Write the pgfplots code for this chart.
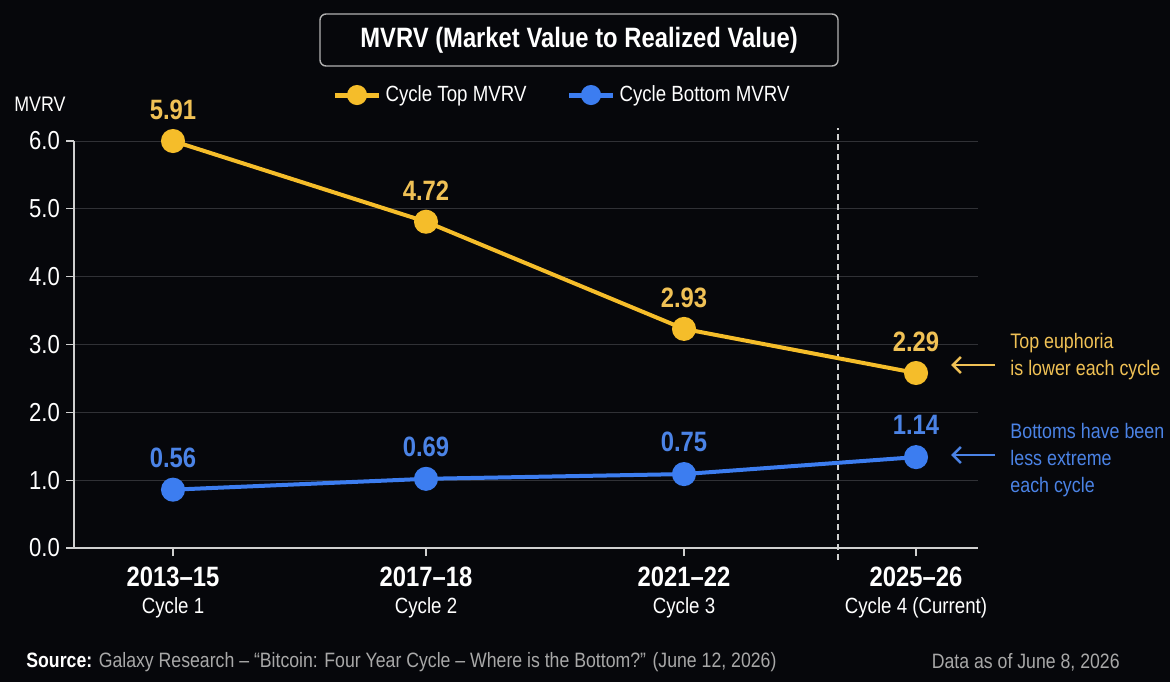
\documentclass[border=0pt]{standalone}
\usepackage{pgfplots}
\pgfplotsset{compat=1.18}
\usetikzlibrary{arrows.meta}
\usepackage{fontspec}
\setmainfont{Liberation Sans}[FakeStretch=0.85]
\definecolor{bg}{HTML}{06070B}
\definecolor{topc}{HTML}{F5BD2A}
\definecolor{botc}{HTML}{3C7DF0}
\definecolor{toplab}{HTML}{F0C155}
\definecolor{botlab}{HTML}{4B83E6}
\definecolor{gridc}{HTML}{303136}
\definecolor{axc}{HTML}{D0D0D0}
\definecolor{srcgray}{HTML}{A8A8A8}
\begin{document}
\begin{tikzpicture}[x=0.5pt,y=0.5pt]
\fill[bg] (0,0) rectangle (1170,682);
\useasboundingbox (0,0) rectangle (1170,682);
% title box
\draw[axc!85!black, line width=0.7pt, rounded corners=3pt] (320,668) rectangle (838,616);
\node[text=white, font=\bfseries\fontsize{14}{16}\selectfont] at (579,642) {MVRV (Market Value to Realized Value)};
% y label
\node[text=white, font=\fontsize{10.5}{12}\selectfont] at (40,578) {MVRV};
\begin{axis}[
  at={(37pt,67pt)}, anchor=south west,
  width=452pt, height=203.5pt, scale only axis,
  xmin=74, xmax=978, ymin=0, ymax=6,
  axis x line=bottom, axis y line=left,
  axis line style={axc, line width=0.6pt, -},
  xtick={173,426,684,916},
  xticklabels={
    {{\bfseries\fontsize{14}{16}\selectfont 2013–15}\\[1.5pt]{\fontsize{11}{13}\selectfont Cycle 1}},
    {{\bfseries\fontsize{14}{16}\selectfont 2017–18}\\[1.5pt]{\fontsize{11}{13}\selectfont Cycle 2}},
    {{\bfseries\fontsize{14}{16}\selectfont 2021–22}\\[1.5pt]{\fontsize{11}{13}\selectfont Cycle 3}},
    {{\bfseries\fontsize{14}{16}\selectfont 2025–26}\\[1.5pt]{\fontsize{11}{13}\selectfont Cycle 4 (Current)}}},
  xticklabel style={align=center, text=white, anchor=north, yshift=-2pt},
  ytick={0,1,2,3,4,5,6},
  yticklabel style={text=white, font=\fontsize{13}{15}\selectfont, xshift=0.5pt,
     /pgf/number format/.cd, fixed, fixed zerofill, precision=1, assume math mode=true},
  tick align=outside, major tick length=4pt,
  tick style={axc, line width=0.6pt},
  ymajorgrids, grid style={gridc, line width=0.5pt},
  clip=false,
  legend columns=2,
  legend style={at={(axis description cs:0.541,1.113)}, anchor=center,
     draw=none, fill=none, text=white, font=\fontsize{11}{13}\selectfont,
     /tikz/every even column/.append style={column sep=18pt}},
  legend cell align=left,
]
\draw[axc, dash pattern=on 3pt off 2pt, line width=0.6pt] (axis cs:838,-0.18) -- (axis cs:838,6.19);
\addplot[topc, line width=2pt, mark=*, mark size=5pt,
  legend image code/.code={\draw[line width=2.5pt] (0pt,0pt) -- (22pt,0pt); \fill (11pt,0pt) circle (4pt);},
  nodes near coords, point meta=explicit symbolic,
  every node near coord/.append style={text=toplab, font=\bfseries\fontsize{14}{16}\selectfont, anchor=center, yshift=15.5pt}]
  coordinates {(173,6.0)[5.91] (426,4.81)[4.72] (684,3.23)[2.93] (916,2.58)[2.29]};
\addlegendentry{Cycle Top MVRV}
\addplot[botc, line width=2pt, mark=*, mark size=5pt,
  legend image code/.code={\draw[line width=2.5pt] (0pt,0pt) -- (22pt,0pt); \fill (11pt,0pt) circle (4pt);},
  nodes near coords, point meta=explicit symbolic,
  every node near coord/.append style={text=botlab, font=\bfseries\fontsize{14}{16}\selectfont, anchor=center, yshift=16pt}]
  coordinates {(173,0.86)[0.56] (426,1.02)[0.69] (684,1.09)[0.75] (916,1.34)[1.14]};
\addlegendentry{Cycle Bottom MVRV}
\end{axis}
% annotations
\draw[toplab, line width=1.3pt, -{Straight Barb[length=4pt,width=8pt]}] (995,317) -- (951,317);
\node[anchor=west, align=left, text=toplab, font=\fontsize{10.5}{13.5}\selectfont, inner sep=0pt] at (1010,325.5) {Top euphoria\\is lower each cycle};
\draw[botlab, line width=1.3pt, -{Straight Barb[length=4pt,width=8pt]}] (995,227) -- (951,227);
\node[anchor=west, align=left, text=botlab, font=\fontsize{10.5}{13.5}\selectfont, inner sep=0pt] at (1010,222) {Bottoms have been\\less extreme\\each cycle};
% footer
\node[anchor=west, text=white, font=\fontsize{10.4}{12}\selectfont, inner sep=0pt] at (26,20) {\textbf{Source:} \textcolor{srcgray}{Galaxy Research – “Bitcoin: Four Year Cycle – Where is the Bottom?” (June 12, 2026)}};
\node[anchor=east, text=srcgray, font=\fontsize{10.4}{12}\selectfont, inner sep=0pt] at (1120,20) {Data as of June 8, 2026};
\end{tikzpicture}
\end{document}
